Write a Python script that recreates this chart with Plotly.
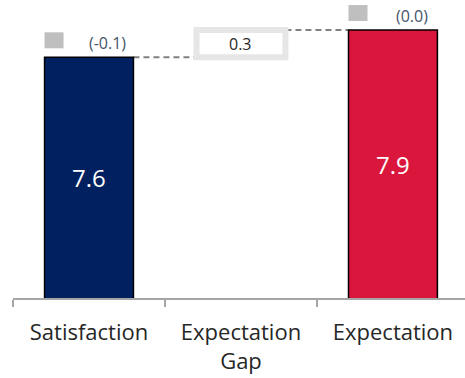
import plotly.graph_objects as go

# Chart data
categories = ["Satisfaction", "Expectation<br>Gap", "Expectation"]
satisfaction = 7.6
expectation = 7.9
gap = 0.3
deltas = ["(-0.1)", "", "(0.0)"]

y_min, y_max = 4.955, 8.23
bar_w = 0.585

navy = "#002060"
red = "#DA163C"
font_family = "Open Sans"

fig = go.Figure()

# Satisfaction and Expectation bars
fig.add_trace(go.Bar(
    x=[categories[0], categories[2]], y=[satisfaction, expectation], width=bar_w,
    marker=dict(color=[navy, red], line=dict(color="#000000", width=1.5)),
    hoverinfo="skip",
))

# Floating gap box between the two levels
fig.add_trace(go.Bar(
    x=[categories[1]], y=[gap], base=[satisfaction], width=bar_w,
    marker=dict(color="#FFFFFF", line=dict(color="#E6E6E6", width=6)),
    hoverinfo="skip",
))

# Dashed connectors between bar tops
fig.add_shape(type="line", layer="below",
              x0=0 + bar_w / 2, x1=1 - bar_w / 2, y0=satisfaction, y1=satisfaction,
              line=dict(color="#808080", width=2, dash="6px,4px"))
fig.add_shape(type="line", layer="below",
              x0=1 + bar_w / 2, x1=2 - bar_w / 2, y0=expectation, y1=expectation,
              line=dict(color="#808080", width=2, dash="6px,4px"))

# Value labels inside the bars
fig.add_annotation(x=0, y=(y_min + satisfaction) / 2, text=f"{satisfaction:.1f}",
                   showarrow=False, font=dict(family=font_family, size=24, color="#FFFFFF"))
fig.add_annotation(x=2, y=(y_min + expectation) / 2, text=f"{expectation:.1f}",
                   showarrow=False, font=dict(family=font_family, size=24, color="#FFFFFF"))
fig.add_annotation(x=1, y=satisfaction + gap / 2, text=f"{gap:.1f}",
                   showarrow=False, font=dict(family=font_family, size=16, color="#262626"))

# Change markers above the bars
for xi, val in [(0, satisfaction), (2, expectation)]:
    fig.add_shape(type="rect", layer="above",
                  xref="x", yref="y",
                  xsizemode="pixel", xanchor=xi - bar_w / 2, x0=0, x1=19,
                  ysizemode="pixel", yanchor=val, y0=9, y1=25,
                  fillcolor="#BFBFBF", line=dict(width=0))
    fig.add_annotation(x=xi, y=val, text=deltas[xi], showarrow=False,
                       xshift=19, yshift=14,
                       font=dict(family=font_family, size=16, color="#44546A"))

fig.update_layout(
    width=465, height=378,
    margin=dict(l=13, r=0, t=0, b=80),
    paper_bgcolor="#FFFFFF", plot_bgcolor="#FFFFFF",
    showlegend=False, barmode="overlay",
    font=dict(family=font_family),
    xaxis=dict(
        type="category", categoryorder="array", categoryarray=categories,
        range=[-0.5, 2.474], showgrid=False, zeroline=False,
        showline=True, linecolor="#A6A6A6", linewidth=1.5,
        ticks="outside", tickson="boundaries", ticklen=7,
        tickcolor="#A6A6A6", tickwidth=1.5,
        ticklabelposition="outside", ticklabelstandoff=14,
        tickfont=dict(family=font_family, size=22, color="#262626"),
    ),
    yaxis=dict(range=[y_min, y_max], visible=False, showgrid=False, zeroline=False),
)

fig.write_html("out.html")
